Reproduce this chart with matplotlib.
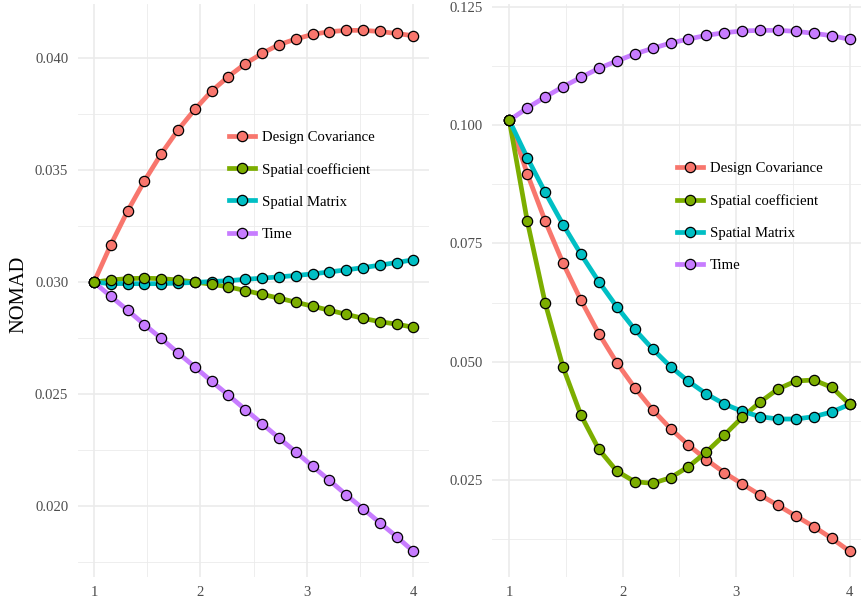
import numpy as np
import matplotlib
matplotlib.use("Agg")
import matplotlib.pyplot as plt
from matplotlib.lines import Line2D
from matplotlib.ticker import MultipleLocator, FormatStrFormatter

plt.rcParams['font.family'] = ['Liberation Serif', 'DejaVu Serif']

x = [1.0, 1.158, 1.316, 1.474, 1.632, 1.789, 1.947, 2.105, 2.263, 2.421,
     2.579, 2.737, 2.895, 3.053, 3.211, 3.368, 3.526, 3.684, 3.842, 4.0]

series_names = ["Design Covariance", "Spatial coefficient", "Spatial Matrix", "Time"]
colors = ["#F8766D", "#7CAE00", "#00BFC4", "#C77CFF"]

# Left panel
left_dc = [0.03000, 0.03167, 0.03318, 0.03452, 0.03573, 0.03679, 0.03771, 0.03853, 0.03918, 0.03975,
           0.04021, 0.04060, 0.04085, 0.04106, 0.04118, 0.04124, 0.04124, 0.04119, 0.04110, 0.04100]
left_sc = [0.03000, 0.03010, 0.03016, 0.03018, 0.03016, 0.03010, 0.03001, 0.02991, 0.02979, 0.02963,
           0.02946, 0.02929, 0.02911, 0.02893, 0.02875, 0.02857, 0.02839, 0.02824, 0.02813, 0.02799]
left_sm = [0.03000, 0.02994, 0.02994, 0.02993, 0.02994, 0.02996, 0.02999, 0.03003, 0.03007, 0.03013,
           0.03018, 0.03024, 0.03030, 0.03037, 0.03046, 0.03055, 0.03065, 0.03076, 0.03088, 0.03100]
left_time = [0.03000, 0.02937, 0.02875, 0.02811, 0.02749, 0.02685, 0.02622, 0.02558, 0.02496, 0.02432,
             0.02369, 0.02305, 0.02243, 0.02179, 0.02116, 0.02052, 0.01990, 0.01927, 0.01865, 0.01799]

# Right panel
right_dc = [0.10099, 0.08972, 0.07972, 0.07078, 0.06296, 0.05592, 0.04979, 0.04451, 0.03986, 0.03585,
            0.03240, 0.02930, 0.02655, 0.02416, 0.02183, 0.01965, 0.01740, 0.01514, 0.01268, 0.00993]
right_sc = [0.10099, 0.07972, 0.06240, 0.04880, 0.03866, 0.03148, 0.02690, 0.02465, 0.02430, 0.02549,
            0.02782, 0.03092, 0.03451, 0.03824, 0.04148, 0.04423, 0.04592, 0.04613, 0.04458, 0.04099]
right_sm = [0.10099, 0.09310, 0.08578, 0.07894, 0.07268, 0.06690, 0.06162, 0.05683, 0.05268, 0.04895,
            0.04585, 0.04317, 0.04106, 0.03951, 0.03838, 0.03789, 0.03789, 0.03838, 0.03937, 0.04099]
right_time = [0.10099, 0.10359, 0.10592, 0.10810, 0.11007, 0.11197, 0.11352, 0.11500, 0.11620, 0.11732,
              0.11817, 0.11894, 0.11951, 0.11986, 0.12000, 0.12000, 0.11979, 0.11937, 0.11887, 0.11810]

left_ticks = [0.020, 0.025, 0.030, 0.035, 0.040]
right_ticks = [0.025, 0.050, 0.075, 0.100, 0.125]
x_ticks = [1, 2, 3, 4]

W, H = 862, 602
fig = plt.figure(figsize=(W / 100, H / 100), dpi=100)
fig.patch.set_facecolor("white")

def px_box(x0, x1, y0, y1):
    return [x0 / W, 1 - y1 / H, (x1 - x0) / W, (y1 - y0) / H]

ax_l = fig.add_axes(px_box(78, 429.3, 4.3, 577.4))
ax_r = fig.add_axes(px_box(492.3, 866.7, 4.3, 577.4))

LW = 3.4
MS = 7.4
MEW = 0.9
point_order = [0, 2, 3, 1]

def draw(ax, data, yticks, minor_step, legend_anchor):
    for i, ys in enumerate(data):
        ax.plot(x, ys, color=colors[i], lw=LW, solid_capstyle='butt', zorder=3)
    for i in point_order:
        ax.plot(x, data[i], ls='none', marker='o', ms=MS, mfc=colors[i], mec='black',
                mew=MEW, zorder=4)
    allv = np.concatenate([np.asarray(d) for d in data])
    lo, hi = allv.min(), allv.max()
    pad = 0.05 * (hi - lo)
    ax.set_ylim(lo - pad, hi + pad)
    ax.set_xlim(0.85, 4.15)
    ax.set_yticks(yticks)
    ax.set_xticks(x_ticks)
    ax.yaxis.set_minor_locator(MultipleLocator(minor_step))
    ax.xaxis.set_minor_locator(MultipleLocator(0.5))
    ax.yaxis.set_major_formatter(FormatStrFormatter('%.3f'))
    ax.xaxis.set_major_formatter(FormatStrFormatter('%d'))
    ax.grid(which='major', color='#EBEBEB', lw=1.2, zorder=0)
    ax.grid(which='minor', color='#EBEBEB', lw=0.6, zorder=0)
    ax.set_axisbelow(True)
    for s in ax.spines.values():
        s.set_visible(False)
    ax.tick_params(which='both', length=0)
    ax.tick_params(axis='y', pad=7.0, labelsize=10.65, labelcolor='#4D4D4D')
    ax.tick_params(axis='x', pad=6.5, labelsize=10.65, labelcolor='#4D4D4D')
    handles = [Line2D([0], [0], color=colors[i], lw=LW, marker='o', ms=MS, mfc=colors[i],
                      mec='black', mew=MEW) for i in range(4)]
    ax.legend(handles, series_names, loc='center left',
              bbox_to_anchor=(legend_anchor[0] / W, 1 - legend_anchor[1] / H),
              bbox_transform=fig.transFigure, frameon=False, fontsize=10.65,
              handlelength=1.76, handletextpad=0.47, labelspacing=1.27,
              borderpad=0, borderaxespad=0)

draw(ax_l, [left_dc, left_sc, left_sm, left_time], left_ticks, 0.0025, (229, 185.7))
draw(ax_r, [right_dc, right_sc, right_sm, right_time], right_ticks, 0.0125, (677, 217))

fig.text(19 / W, 1 - 294 / H, "NOMAD", rotation=90, ha='center', va='center',
         fontsize=14.8, color='black')

fig.savefig("out.png", dpi=100)
